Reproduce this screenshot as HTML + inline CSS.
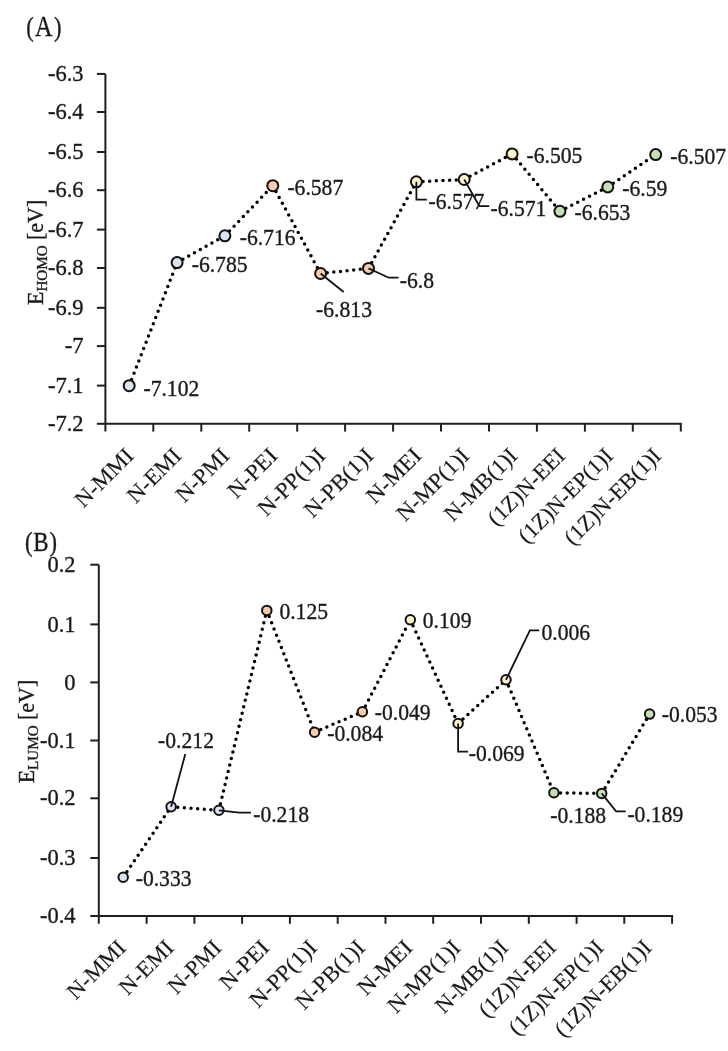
<!DOCTYPE html>
<html><head><meta charset="utf-8"><style>
html,body{margin:0;padding:0;background:#fff;}
svg{display:block;font-family:"Liberation Serif", "DejaVu Serif", serif;font-size:22.5px;fill:#1a1a1a;}
text{stroke:#1a1a1a;stroke-width:0.35px;}
.ax{stroke:#1f1f1f;stroke-width:2;fill:none;}
.dot{stroke:#000;stroke-width:3.5;fill:none;stroke-dasharray:0 6.65;stroke-linecap:round;}
.lead{stroke:#111;stroke-width:1.8;fill:none;}
.mk{stroke:#111;stroke-width:2;}
.dl{font-size:22.3px;}
.cat{stroke-width:0.15px;}
</style></head><body>
<svg width="728" height="1051" viewBox="0 0 728 1051">
<text transform="translate(0 36.00) scale(0.82 1)"><tspan x="31.93" font-size="27.5">(</tspan><tspan x="42.68" font-size="29.5">A</tspan><tspan x="65.83" font-size="27.5">)</tspan></text>
<text transform="translate(43.3 305) rotate(-90) scale(0.975 1)" font-size="22.5">E<tspan font-size="15.5" dy="3.8">HOMO</tspan><tspan dy="-3.8"> [eV]</tspan></text>
<path d="M105.4 73.9V431.6M105.4 423.8H680.8V431.6" class="ax"/>
<path d="M96.9 73.9H105.4" class="ax"/>
<path d="M96.9 112.0H105.4" class="ax"/>
<path d="M96.9 152.0H105.4" class="ax"/>
<path d="M96.9 190.2H105.4" class="ax"/>
<path d="M96.9 229.6H105.4" class="ax"/>
<path d="M96.9 268.0H105.4" class="ax"/>
<path d="M96.9 307.8H105.4" class="ax"/>
<path d="M96.9 346.1H105.4" class="ax"/>
<path d="M96.9 385.6H105.4" class="ax"/>
<path d="M96.9 423.8H105.4" class="ax"/>
<path d="M153.3 423.8V431.6" class="ax"/>
<path d="M201.3 423.8V431.6" class="ax"/>
<path d="M249.2 423.8V431.6" class="ax"/>
<path d="M297.2 423.8V431.6" class="ax"/>
<path d="M345.1 423.8V431.6" class="ax"/>
<path d="M393.1 423.8V431.6" class="ax"/>
<path d="M441.0 423.8V431.6" class="ax"/>
<path d="M489.0 423.8V431.6" class="ax"/>
<path d="M536.9 423.8V431.6" class="ax"/>
<path d="M584.9 423.8V431.6" class="ax"/>
<path d="M632.8 423.8V431.6" class="ax"/>
<text x="83.6" y="81.0" text-anchor="end">-6.3</text>
<text x="83.6" y="119.1" text-anchor="end">-6.4</text>
<text x="83.6" y="159.1" text-anchor="end">-6.5</text>
<text x="83.6" y="197.3" text-anchor="end">-6.6</text>
<text x="83.6" y="236.7" text-anchor="end">-6.7</text>
<text x="83.6" y="275.1" text-anchor="end">-6.8</text>
<text x="83.6" y="314.9" text-anchor="end">-6.9</text>
<text x="83.6" y="353.2" text-anchor="end">-7</text>
<text x="83.6" y="392.7" text-anchor="end">-7.1</text>
<text x="83.6" y="430.9" text-anchor="end">-7.2</text>
<text transform="translate(134.9 457.1) rotate(-45)" text-anchor="end" class="cat" textLength="72.75" lengthAdjust="spacingAndGlyphs">N-MMI</text>
<text transform="translate(182.8 457.1) rotate(-45)" text-anchor="end" class="cat" textLength="66.68" lengthAdjust="spacingAndGlyphs">N-EMI</text>
<text transform="translate(230.8 457.1) rotate(-45)" text-anchor="end" class="cat" textLength="65.47" lengthAdjust="spacingAndGlyphs">N-PMI</text>
<text transform="translate(278.7 457.1) rotate(-45)" text-anchor="end" class="cat" textLength="59.80" lengthAdjust="spacingAndGlyphs">N-PEI</text>
<text transform="translate(326.7 457.1) rotate(-45)" text-anchor="end" class="cat" textLength="85.00" lengthAdjust="spacingAndGlyphs">N-PP(1)I</text>
<text transform="translate(374.6 457.1) rotate(-45)" text-anchor="end" class="cat" textLength="87.30" lengthAdjust="spacingAndGlyphs">N-PB(1)I</text>
<text transform="translate(422.6 457.1) rotate(-45)" text-anchor="end" class="cat" textLength="67.28" lengthAdjust="spacingAndGlyphs">N-MEI</text>
<text transform="translate(470.5 457.1) rotate(-45)" text-anchor="end" class="cat" textLength="92.30" lengthAdjust="spacingAndGlyphs">N-MP(1)I</text>
<text transform="translate(518.5 457.1) rotate(-45)" text-anchor="end" class="cat" textLength="92.48" lengthAdjust="spacingAndGlyphs">N-MB(1)I</text>
<text transform="translate(566.4 457.1) rotate(-45)" text-anchor="end" class="cat" textLength="98.70" lengthAdjust="spacingAndGlyphs">(1Z)N-EEI</text>
<text transform="translate(614.4 457.1) rotate(-45)" text-anchor="end" class="cat" textLength="123.72" lengthAdjust="spacingAndGlyphs">(1Z)N-EP(1)I</text>
<text transform="translate(662.3 457.1) rotate(-45)" text-anchor="end" class="cat" textLength="126.20" lengthAdjust="spacingAndGlyphs">(1Z)N-EB(1)I</text>
<path d="M129.2 385.7L177.1 262.6" class="dot"/>
<path d="M177.1 262.6L224.9 235.8" class="dot"/>
<path d="M224.9 235.8L272.8 185.7" class="dot"/>
<path d="M272.8 185.7L320.6 273.5" class="dot"/>
<path d="M320.6 273.5L368.5 268.4" class="dot"/>
<path d="M368.5 268.4L416.4 181.8" class="dot"/>
<path d="M416.4 181.8L464.2 179.5" class="dot"/>
<path d="M464.2 179.5L512.1 153.9" class="dot"/>
<path d="M512.1 153.9L559.9 211.3" class="dot"/>
<path d="M559.9 211.3L607.8 186.9" class="dot"/>
<path d="M607.8 186.9L655.7 154.6" class="dot"/>
<circle cx="129.2" cy="385.7" r="5.5" fill="#dae3f3" class="mk"/>
<circle cx="177.1" cy="262.6" r="5.5" fill="#dae3f3" class="mk"/>
<circle cx="224.9" cy="235.8" r="5.5" fill="#dae3f3" class="mk"/>
<circle cx="272.8" cy="185.7" r="5.5" fill="#f8cbad" class="mk"/>
<circle cx="320.6" cy="273.5" r="5.5" fill="#f8cbad" class="mk"/>
<circle cx="368.5" cy="268.4" r="5.5" fill="#f8cbad" class="mk"/>
<circle cx="416.4" cy="181.8" r="5.5" fill="#fff2cc" class="mk"/>
<circle cx="464.2" cy="179.5" r="5.5" fill="#fff2cc" class="mk"/>
<circle cx="512.1" cy="153.9" r="5.5" fill="#fff2cc" class="mk"/>
<circle cx="559.9" cy="211.3" r="5.5" fill="#c5e0b4" class="mk"/>
<circle cx="607.8" cy="186.9" r="5.5" fill="#c5e0b4" class="mk"/>
<circle cx="655.7" cy="154.6" r="5.5" fill="#c5e0b4" class="mk"/>
<path d="M320.6 273.5L343.7 292.0" class="lead"/>
<path d="M368.5 268.4L388.8 277.7H398.5" class="lead"/>
<path d="M416.4 181.8V199.7H426.8" class="lead"/>
<path d="M464.2 179.5L479.4 206.2H489.2" class="lead"/>
<text transform="translate(143.45 395.70) scale(0.97 1)" class="dl">-7.102</text>
<text transform="translate(191.70 272.00) scale(0.97 1)" class="dl">-6.785</text>
<text transform="translate(239.70 244.90) scale(0.97 1)" class="dl">-6.716</text>
<text transform="translate(287.40 194.90) scale(0.97 1)" class="dl">-6.587</text>
<text transform="translate(316.10 317.10) scale(0.97 1)" class="dl">-6.813</text>
<text transform="translate(399.80 287.80) scale(0.97 1)" class="dl">-6.8</text>
<text transform="translate(428.50 208.90) scale(0.97 1)" class="dl">-6.577</text>
<text transform="translate(490.50 215.80) scale(0.97 1)" class="dl">-6.571</text>
<text transform="translate(526.50 162.90) scale(0.97 1)" class="dl">-6.505</text>
<text transform="translate(574.50 220.40) scale(0.97 1)" class="dl">-6.653</text>
<text transform="translate(622.30 196.10) scale(0.97 1)" class="dl">-6.59</text>
<text transform="translate(670.30 163.90) scale(0.97 1)" class="dl">-6.507</text>
<text transform="translate(0 550.50) scale(0.82 1)"><tspan x="30.46" font-size="27.5">(</tspan><tspan x="40.71" font-size="28">B</tspan><tspan x="60.46" font-size="27.5">)</tspan></text>
<text transform="translate(34.2 783.3) rotate(-90) scale(0.975 1)" font-size="22.5">E<tspan font-size="15.5" dy="3.8">LUMO</tspan><tspan dy="-3.8"> [eV]</tspan></text>
<path d="M98.8 564.7V923.8M98.8 916.0H672.1V923.8" class="ax"/>
<path d="M90.3 564.7H98.8" class="ax"/>
<path d="M90.3 624.4H98.8" class="ax"/>
<path d="M90.3 682.4H98.8" class="ax"/>
<path d="M90.3 740.5H98.8" class="ax"/>
<path d="M90.3 798.3H98.8" class="ax"/>
<path d="M90.3 858.0H98.8" class="ax"/>
<path d="M90.3 916.0H98.8" class="ax"/>
<path d="M146.6 916.0V923.8" class="ax"/>
<path d="M194.4 916.0V923.8" class="ax"/>
<path d="M242.1 916.0V923.8" class="ax"/>
<path d="M289.9 916.0V923.8" class="ax"/>
<path d="M337.7 916.0V923.8" class="ax"/>
<path d="M385.5 916.0V923.8" class="ax"/>
<path d="M433.2 916.0V923.8" class="ax"/>
<path d="M481.0 916.0V923.8" class="ax"/>
<path d="M528.8 916.0V923.8" class="ax"/>
<path d="M576.6 916.0V923.8" class="ax"/>
<path d="M624.3 916.0V923.8" class="ax"/>
<text x="75.6" y="571.8" text-anchor="end">0.2</text>
<text x="75.6" y="631.5" text-anchor="end">0.1</text>
<text x="75.6" y="689.5" text-anchor="end">0</text>
<text x="75.6" y="747.6" text-anchor="end">-0.1</text>
<text x="75.6" y="805.4" text-anchor="end">-0.2</text>
<text x="75.6" y="865.1" text-anchor="end">-0.3</text>
<text x="75.6" y="923.1" text-anchor="end">-0.4</text>
<text transform="translate(127.2 949.0) rotate(-45)" text-anchor="end" class="cat" textLength="72.75" lengthAdjust="spacingAndGlyphs">N-MMI</text>
<text transform="translate(175.0 949.0) rotate(-45)" text-anchor="end" class="cat" textLength="66.68" lengthAdjust="spacingAndGlyphs">N-EMI</text>
<text transform="translate(222.7 949.0) rotate(-45)" text-anchor="end" class="cat" textLength="65.47" lengthAdjust="spacingAndGlyphs">N-PMI</text>
<text transform="translate(270.5 949.0) rotate(-45)" text-anchor="end" class="cat" textLength="59.80" lengthAdjust="spacingAndGlyphs">N-PEI</text>
<text transform="translate(318.3 949.0) rotate(-45)" text-anchor="end" class="cat" textLength="85.00" lengthAdjust="spacingAndGlyphs">N-PP(1)I</text>
<text transform="translate(366.1 949.0) rotate(-45)" text-anchor="end" class="cat" textLength="87.30" lengthAdjust="spacingAndGlyphs">N-PB(1)I</text>
<text transform="translate(413.8 949.0) rotate(-45)" text-anchor="end" class="cat" textLength="67.28" lengthAdjust="spacingAndGlyphs">N-MEI</text>
<text transform="translate(461.6 949.0) rotate(-45)" text-anchor="end" class="cat" textLength="92.30" lengthAdjust="spacingAndGlyphs">N-MP(1)I</text>
<text transform="translate(509.4 949.0) rotate(-45)" text-anchor="end" class="cat" textLength="92.48" lengthAdjust="spacingAndGlyphs">N-MB(1)I</text>
<text transform="translate(557.2 949.0) rotate(-45)" text-anchor="end" class="cat" textLength="98.70" lengthAdjust="spacingAndGlyphs">(1Z)N-EEI</text>
<text transform="translate(604.9 949.0) rotate(-45)" text-anchor="end" class="cat" textLength="123.72" lengthAdjust="spacingAndGlyphs">(1Z)N-EP(1)I</text>
<text transform="translate(652.7 949.0) rotate(-45)" text-anchor="end" class="cat" textLength="126.20" lengthAdjust="spacingAndGlyphs">(1Z)N-EB(1)I</text>
<path d="M123.2 877.3L171.1 806.8" class="dot"/>
<path d="M171.1 806.8L218.9 810.3" class="dot"/>
<path d="M218.9 810.3L266.8 610.4" class="dot"/>
<path d="M266.8 610.4L314.6 732.2" class="dot"/>
<path d="M314.6 732.2L362.4 711.8" class="dot"/>
<path d="M362.4 711.8L410.3 619.8" class="dot"/>
<path d="M410.3 619.8L458.1 723.5" class="dot"/>
<path d="M458.1 723.5L506.0 679.8" class="dot"/>
<path d="M506.0 679.8L553.9 792.8" class="dot"/>
<path d="M553.9 792.8L601.7 793.4" class="dot"/>
<path d="M601.7 793.4L649.6 714.1" class="dot"/>
<circle cx="123.2" cy="877.3" r="4.75" fill="#dae3f3" class="mk"/>
<circle cx="171.1" cy="806.8" r="4.75" fill="#dae3f3" class="mk"/>
<circle cx="218.9" cy="810.3" r="4.75" fill="#dae3f3" class="mk"/>
<circle cx="266.8" cy="610.4" r="4.75" fill="#f8cbad" class="mk"/>
<circle cx="314.6" cy="732.2" r="4.75" fill="#f8cbad" class="mk"/>
<circle cx="362.4" cy="711.8" r="4.75" fill="#f8cbad" class="mk"/>
<circle cx="410.3" cy="619.8" r="4.75" fill="#fff2cc" class="mk"/>
<circle cx="458.1" cy="723.5" r="4.75" fill="#fff2cc" class="mk"/>
<circle cx="506.0" cy="679.8" r="4.75" fill="#fff2cc" class="mk"/>
<circle cx="553.9" cy="792.8" r="4.75" fill="#c5e0b4" class="mk"/>
<circle cx="601.7" cy="793.4" r="4.75" fill="#c5e0b4" class="mk"/>
<circle cx="649.6" cy="714.1" r="4.75" fill="#c5e0b4" class="mk"/>
<path d="M171.1 806.8L185.3 754.0" class="lead"/>
<path d="M218.9 810.3L239.3 812.6H251.0" class="lead"/>
<path d="M458.1 723.5V751.7H467.9" class="lead"/>
<path d="M506.0 679.8L529.9 630.4H539.2" class="lead"/>
<path d="M601.7 793.4L616.1 811.3H625.7" class="lead"/>
<text transform="translate(135.70 885.90) scale(0.97 1)" class="dl">-0.333</text>
<text transform="translate(158.10 748.00) scale(0.97 1)" class="dl">-0.212</text>
<text transform="translate(253.20 822.30) scale(0.97 1)" class="dl">-0.218</text>
<text transform="translate(279.40 618.90) scale(0.97 1)" class="dl">0.125</text>
<text transform="translate(327.20 740.90) scale(0.97 1)" class="dl">-0.084</text>
<text transform="translate(374.80 719.90) scale(0.97 1)" class="dl">-0.049</text>
<text transform="translate(422.80 627.90) scale(0.97 1)" class="dl">0.109</text>
<text transform="translate(468.80 761.30) scale(0.97 1)" class="dl">-0.069</text>
<text transform="translate(541.50 639.90) scale(0.97 1)" class="dl">0.006</text>
<text transform="translate(550.20 822.80) scale(0.97 1)" class="dl">-0.188</text>
<text transform="translate(627.40 821.50) scale(0.97 1)" class="dl">-0.189</text>
<text transform="translate(661.80 722.30) scale(0.97 1)" class="dl">-0.053</text>
</svg>
</body></html>
